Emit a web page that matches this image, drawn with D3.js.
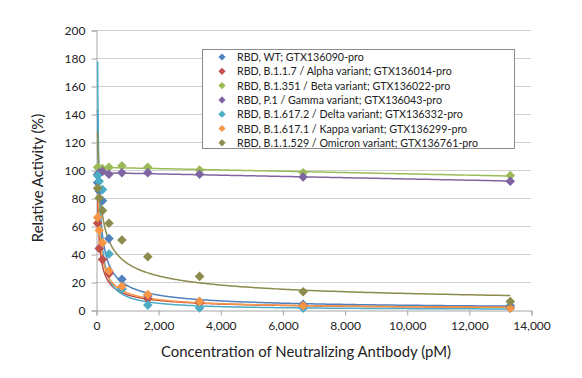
<!DOCTYPE html>
<html><head><meta charset="utf-8">
<script src="https://cdn.jsdelivr.net/npm/d3@7"></script>
<style>body{margin:0;background:#fff}svg{display:block}</style>
</head><body>
<svg id="c" width="582" height="378"></svg>
<script>
// ---- data ----
const concentrations = [52, 104, 208, 417, 833, 1667, 3333, 6667, 13333];
const seriesNames = [
  "RBD, WT; GTX136090-pro",
  "RBD, B.1.1.7 / Alpha variant; GTX136014-pro",
  "RBD, B.1.351 / Beta variant; GTX136022-pro",
  "RBD, P.1 / Gamma variant; GTX136043-pro",
  "RBD, B.1.617.2 / Delta variant; GTX136332-pro",
  "RBD, B.1.617.1 / Kappa variant; GTX136299-pro",
  "RBD, B.1.1.529 / Omicron variant; GTX136761-pro"
];
const wtValues      = [91, 85, 78, 51, 22, 10, 6, 4, 3];
const alphaValues   = [62, 44, 36, 26, 15, 8, 5, 3, 1.5];
const betaValues    = [102, 101, 101, 102, 103, 102, 100, 98, 96];
const gammaValues   = [97, 98, 99, 97, 98, 98, 97, 95, 92];
const deltaValues   = [96, 92, 86, 40, 15, 3.5, 1.5, 1.2, 1.2];
const kappaValues   = [66, 57, 48, 28, 17, 11, 6, 3, 1.2];
const omicronValues = [87, 80, 71, 62, 50, 38, 24, 13, 6];
// trendline type per series (spreadsheet-style fits computed from the values)
const trendTypes = ["power", "power", "linear", "linear", "power", "power", "power"];
const xTicks = [0, 2000, 4000, 6000, 8000, 10000, 12000, 14000];
const yTicks = [0, 20, 40, 60, 80, 100, 120, 140, 160, 180, 200];
const colors = ["#4F81BD", "#C0504D", "#9BBB59", "#8064A2", "#4BACC6", "#F79646", "#8C8C4E"];
const allValues = [wtValues, alphaValues, betaValues, gammaValues, deltaValues, kappaValues, omicronValues];

// ---- chart ----
const svg = d3.select("#c");
const x = d3.scaleLinear().domain([0, 14000]).range([96, 531]);
const y = d3.scaleLinear().domain([0, 200]).range([310, 30]);
const font = "Lato, 'Liberation Sans', sans-serif";

// gridlines
svg.append("g").selectAll("line").data(yTicks.filter(d => d > 0)).join("line")
  .attr("x1", x(0)).attr("x2", x(14000))
  .attr("y1", d => Math.round(y(d)) + 0.5).attr("y2", d => Math.round(y(d)) + 0.5)
  .attr("stroke", "#d0d0d0").attr("stroke-width", 1);

// y axis
const yAxis = svg.append("g").attr("transform", `translate(${x(0) + 0.5},0.5)`)
  .call(d3.axisLeft(y).tickValues(yTicks).tickSize(5).tickPadding(6));
yAxis.select(".domain").attr("stroke", "#a6a6a6");
yAxis.selectAll(".tick line").attr("stroke", "#a6a6a6");
yAxis.selectAll("text").attr("font-family", font).attr("font-size", 12).attr("fill", "#222");

// x axis
const xAxis = svg.append("g").attr("transform", `translate(0.5,${y(0) + 0.5})`)
  .call(d3.axisBottom(x).tickValues(xTicks).tickSize(5).tickPadding(6).tickFormat(d3.format(",")));
xAxis.select(".domain").attr("stroke", "#a6a6a6");
xAxis.selectAll(".tick line").attr("stroke", "#a6a6a6");
xAxis.selectAll("text").attr("font-family", font).attr("font-size", 12).attr("fill", "#222");

// axis titles
svg.append("text").attr("x", 306).attr("y", 357)
  .attr("text-anchor", "middle").attr("font-family", font).attr("font-size", 14.9).attr("fill", "#222")
  .text("Concentration of Neutralizing Antibody (pM)");
svg.append("text").attr("transform", `translate(43,178) rotate(-90)`)
  .attr("text-anchor", "middle").attr("font-family", font).attr("font-size", 14.8).attr("fill", "#222")
  .text("Relative Activity (%)");

// trendlines
function powerFit(xs, ys) {
  const lx = xs.map(Math.log), ly = ys.map(Math.log);
  const mx = d3.mean(lx), my = d3.mean(ly);
  const b = d3.sum(lx.map((v, i) => (v - mx) * (ly[i] - my))) / d3.sum(lx.map(v => (v - mx) ** 2));
  const a = Math.exp(my - b * mx);
  return s => a * Math.pow(s, b);
}
function linearFit(xs, ys) {
  const mx = d3.mean(xs), my = d3.mean(ys);
  const b = d3.sum(xs.map((v, i) => (v - mx) * (ys[i] - my))) / d3.sum(xs.map(v => (v - mx) ** 2));
  const a = my - b * mx;
  return s => a + b * s;
}
const lo = d3.min(concentrations), hi = d3.max(concentrations);
const samples = d3.range(0, 401).map(i => Math.exp(Math.log(lo) + (Math.log(hi) - Math.log(lo)) * i / 400));
const line = d3.line().x(d => x(d[0])).y(d => y(d[1]));
svg.append("clipPath").attr("id", "pc").append("rect")
  .attr("x", x(0)).attr("y", y(200)).attr("width", x(14000) - x(0)).attr("height", y(0) - y(200));
const trend = svg.append("g").attr("clip-path", "url(#pc)");
allValues.forEach((vals, si) => {
  const f = trendTypes[si] === "power" ? powerFit(concentrations, vals) : linearFit(concentrations, vals);
  trend.append("path").datum(samples.map(s => [s, f(s)]))
    .attr("d", line).attr("fill", "none").attr("stroke", colors[si]).attr("stroke-width", 1.5);
});

// markers
const diamond = r => `M0,${-r}L${r},0L0,${r}L${-r},0Z`;
allValues.forEach((vals, si) => {
  svg.append("g").selectAll("path").data(vals.map((v, i) => [concentrations[i], v])).join("path")
    .attr("transform", d => `translate(${x(d[0])},${y(d[1])})`)
    .attr("d", diamond(4.8)).attr("fill", colors[si]);
});

// legend
const lg = svg.append("g");
lg.append("rect").attr("x", 202.5).attr("y", 49.5).attr("width", 312).attr("height", 99)
  .attr("fill", "#fff").attr("stroke", "#8c8c8c").attr("stroke-width", 1);
seriesNames.forEach((name, i) => {
  const cy = 57 + i * 14.3;
  lg.append("path").attr("transform", `translate(222,${cy})`).attr("d", diamond(3.6)).attr("fill", colors[i]);
  lg.append("text").attr("x", 237).attr("y", cy + 4).attr("font-family", font).attr("font-size", 10.7)
    .attr("fill", "#222").text(name);
});
</script>
</body></html>
